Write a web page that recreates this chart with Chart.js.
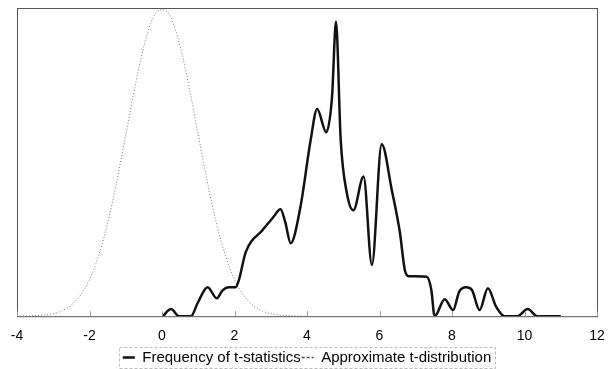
<!DOCTYPE html>
<html>
<head>
<meta charset="utf-8">
<script src="https://cdn.jsdelivr.net/npm/chart.js@4/dist/chart.umd.min.js"></script>
<style>
  html, body { margin: 0; padding: 0; background: #fff; }
  #wrap { width: 610px; height: 369px; position: relative; }
</style>
</head>
<body>
<div id="wrap"><canvas id="c"></canvas></div>
<script>
// Frequency of t-statistics (smoothed).
const freqT = [0.02, 0.25, 0.47, 0.8, 0.98, 1.26, 1.51, 1.67, 1.84, 2.03, 2.12, 2.31, 2.77, 3.05, 3.27, 3.4, 3.55,
    3.82, 4.1, 4.28, 4.53, 4.69, 4.8, 4.93, 5.1, 5.28, 5.56, 5.79, 6.06, 6.34, 6.56, 6.7, 6.8, 7.3, 7.43, 7.52,
    7.8, 8.03, 8.2, 8.39, 8.55, 8.76, 8.99, 9.22, 9.45, 9.8, 10.09, 10.35, 11.0];
const freqVals = [0, 0.023, 0, 0, 0.042, 0.094, 0.058, 0.084, 0.094, 0.094, 0.117, 0.208, 0.279, 0.318, 0.347, 0.305, 0.237,
    0.355, 0.571, 0.672, 0.597, 0.711, 0.955, 0.571, 0.399, 0.344, 0.453, 0.166, 0.558, 0.409, 0.274, 0.149, 0.13, 0.128, 0.085, 0,
    0.055, 0.02, 0.08, 0.094, 0.085, 0.02, 0.091, 0.03, 0, 0, 0.023, 0, 0];

// Approximate t-distribution.
const distT = [-4, -3.5, -3, -2.75, -2.5, -2.25, -2, -1.75, -1.5, -1.25, -1, -0.75, -0.5, -0.25, 0,
    0.25, 0.5, 0.75, 1, 1.25, 1.5, 1.75, 2, 2.25, 2.5, 2.75, 3, 3.5, 4];
const distVals = [0, 0.002, 0.008, 0.018, 0.036, 0.068, 0.119, 0.196, 0.302, 0.436, 0.588, 0.742, 0.876, 0.967, 0.995,
    0.967, 0.876, 0.742, 0.588, 0.436, 0.302, 0.196, 0.119, 0.068, 0.036, 0.018, 0.008, 0.002, 0];

const xTicks = [-4, -2, 0, 2, 4, 6, 8, 10, 12];

const toPoints = (xs, ys) => xs.map((x, i) => ({ x, y: ys[i] }));

// box round the plot, inner tick marks, and the faint legend frame
const framePlugin = {
    id: 'frame',
    afterDraw(chart) {
        const { ctx, chartArea: a } = chart;
        const xs = chart.scales.x;
        ctx.save();
        ctx.strokeStyle = '#555';
        ctx.lineWidth = 1;
        ctx.strokeRect(a.left + 0.5, a.top + 0.5, a.right - a.left, a.bottom - a.top);
        ctx.strokeStyle = '#999';
        xTicks.forEach(v => {
            const px = Math.round(xs.getPixelForValue(v)) + 0.5;
            ctx.beginPath();
            ctx.moveTo(px, a.bottom);
            ctx.lineTo(px, a.bottom - 5);
            ctx.stroke();
        });
        // frame only round the legend items, not the whole legend row
        const hb = chart.legend.legendHitBoxes;
        if (hb && hb.length) {
            const left = Math.min(...hb.map(b => b.left)) - 4;
            const right = Math.max(...hb.map(b => b.left + b.width)) + 4;
            const top = Math.min(...hb.map(b => b.top)) - 3;
            const bottom = Math.max(...hb.map(b => b.top + b.height)) + 3;
            ctx.strokeStyle = '#bbb';
            ctx.setLineDash([3, 2]);
            ctx.strokeRect(Math.round(left) + 0.5, Math.round(top) + 0.5, Math.round(right - left), Math.round(bottom - top));
        }
        ctx.restore();
    },
};

new Chart(document.getElementById('c'), {
    type: 'line',
    data: {
        datasets: [
            {
                label: 'Frequency of t-statistics',
                data: toPoints(freqT, freqVals),
                borderColor: '#111',
                borderWidth: 2.5,
                pointRadius: 0,
                cubicInterpolationMode: 'monotone',
                fill: false,
            },
            {
                label: 'Approximate t-distribution',
                data: toPoints(distT, distVals),
                borderColor: '#777',
                borderWidth: 1,
                borderDash: [1, 2],
                pointRadius: 0,
                cubicInterpolationMode: 'monotone',
                fill: false,
            },
        ],
    },
    options: {
        responsive: true,
        maintainAspectRatio: false,
        animation: false,
        layout: { padding: { left: 17, right: 13, top: 8, bottom: -6 } },
        plugins: {
            tooltip: { enabled: false },
            legend: {
                position: 'bottom',
                labels: {
                    usePointStyle: true,
                    pointStyle: 'line',
                    pointStyleWidth: 12,
                    boxHeight: 10,
                    padding: 1,
                    color: '#000',
                    font: { family: 'Liberation Sans, Arial, sans-serif', size: 15 },
                    // make the dotted marker readable as "--" in the key
                    generateLabels(chart) {
                        const items = Chart.defaults.plugins.legend.labels.generateLabels(chart);
                        items.forEach(it => {
                            if (it.datasetIndex === 1) {
                                it.lineDash = [3, 2];
                                it.lineWidth = 1.5;
                                it.strokeStyle = '#444';
                            }
                        });
                        return items;
                    },
                },
            },
        },
        scales: {
            x: {
                type: 'linear',
                min: -4,
                max: 12,
                afterBuildTicks(scale) { scale.ticks = xTicks.map(v => ({ value: v })); },
                grid: { display: false },
                border: { display: false },
                ticks: {
                    color: '#000',
                    padding: 4,
                    maxRotation: 0,
                    font: { family: 'Liberation Sans, Arial, sans-serif', size: 14 },
                },
            },
            y: {
                display: false,
                min: 0,
                max: 1,
            },
        },
    },
    plugins: [framePlugin],
});
</script>
</body>
</html>
